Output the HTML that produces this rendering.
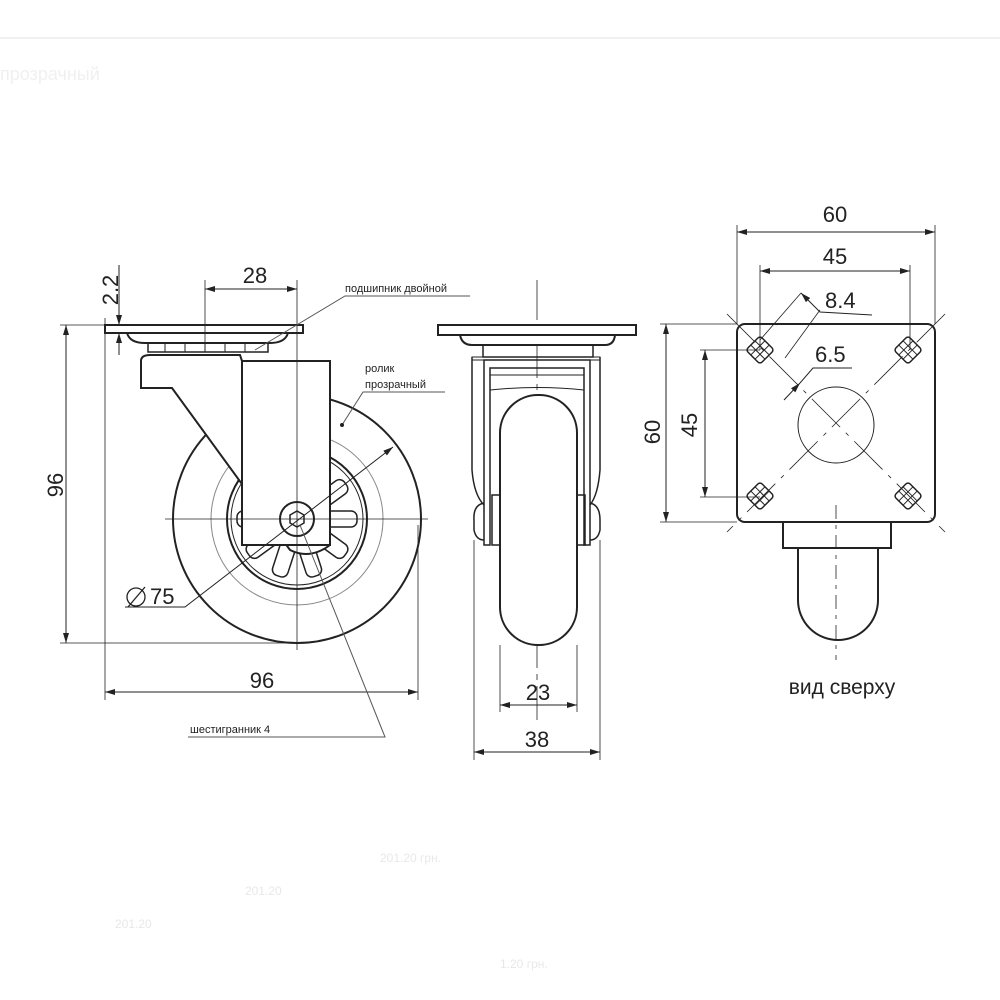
<!DOCTYPE html>
<html><head><meta charset="utf-8"><style>
html,body{margin:0;padding:0;background:#fff;}
svg{display:block;font-family:"Liberation Sans","DejaVu Sans",sans-serif;}
</style></head><body>
<svg width="1000" height="1000" viewBox="0 0 1000 1000" xmlns="http://www.w3.org/2000/svg">
<defs>
<marker id="a" viewBox="0 0 10 6" refX="10" refY="3" markerWidth="10" markerHeight="6" orient="auto-start-reverse" markerUnits="userSpaceOnUse"><path d="M0,0 L10,3 L0,6 z" fill="#222"/></marker>
<g id="h"><rect x="-10" y="-10" width="20" height="20" rx="3" stroke-width="1.5"/><line x1="-3" y1="-10" x2="-3" y2="10"/><line x1="3" y1="-10" x2="3" y2="10"/><line x1="-10" y1="-3" x2="10" y2="-3"/><line x1="-10" y1="3" x2="10" y2="3"/></g>
</defs>
<line x1="0" y1="38" x2="1000" y2="38" stroke="#eef0f3" stroke-width="2"/>
<text x="0" y="80" font-size="18" fill="#f0f0f0">прозрачный</text>

<g stroke="#222" fill="none" stroke-width="1">
<circle cx="297" cy="519" r="124" stroke-width="2"/>
<circle cx="297" cy="519" r="86" stroke="#888"/>
<circle cx="297" cy="519" r="70" stroke-width="2"/>
<circle cx="297" cy="519" r="66"/>
<g stroke-width="1.5">
<g transform="translate(297,519)">
<rect x="24" y="-8" width="36" height="16" rx="6" transform="rotate(0)"/>
<rect x="24" y="-8" width="36" height="16" rx="6" transform="rotate(36)"/>
<rect x="24" y="-8" width="36" height="16" rx="6" transform="rotate(72)"/>
<rect x="24" y="-8" width="36" height="16" rx="6" transform="rotate(108)"/>
<rect x="24" y="-8" width="36" height="16" rx="6" transform="rotate(144)"/>
<rect x="24" y="-8" width="36" height="16" rx="6" transform="rotate(180)"/>
<rect x="24" y="-8" width="36" height="16" rx="6" transform="rotate(216)"/>
<rect x="24" y="-8" width="36" height="16" rx="6" transform="rotate(-36)"/>
<rect x="24" y="-8" width="36" height="16" rx="6" transform="rotate(-72)"/>
</g>
</g>
<path d="M141,361 Q141,355 150,355 L240,355 L242,361 L330,361 L330,545 Q310,560 290,550 L172,388 L141,388 Z" fill="#fff" stroke-width="2"/>
<rect x="242" y="361" width="88" height="184" fill="#fff" stroke-width="2"/>
<circle cx="297" cy="519" r="17" fill="#fff" stroke-width="2"/>
<polygon points="290,515 297,511 304,515 304,523 297,527 290,523" stroke-width="1.5"/>
<path d="M127,333 Q130,343 145,343 L270,343 Q285,343 288,333" fill="#fff" stroke-width="2"/>
<rect x="148" y="343" width="120" height="9" stroke-width="1.5"/>
<line x1="165" y1="343" x2="165" y2="352"/><line x1="185" y1="343" x2="185" y2="352"/><line x1="205" y1="343" x2="205" y2="352"/><line x1="225" y1="343" x2="225" y2="352"/><line x1="245" y1="343" x2="245" y2="352"/>
<rect x="105" y="325" width="198" height="8" fill="#fff" stroke-width="2"/>
<line x1="297" y1="280" x2="297" y2="650" stroke-width="0.8"/>
<line x1="165" y1="519" x2="428" y2="519" stroke-width="0.8"/>
<line x1="105" y1="318" x2="105" y2="700" stroke-width="0.8"/>
<line x1="418" y1="525" x2="418" y2="700" stroke-width="0.8"/>
<line x1="60" y1="325" x2="105" y2="325" stroke-width="0.8"/>
<line x1="60" y1="643" x2="297" y2="643" stroke-width="0.8"/>
<line x1="66" y1="325" x2="66" y2="643" marker-start="url(#a)" marker-end="url(#a)"/>
<line x1="105" y1="692" x2="418" y2="692" marker-start="url(#a)" marker-end="url(#a)"/>
<line x1="205" y1="280" x2="205" y2="345" stroke-width="0.8"/>
<line x1="205" y1="289" x2="297" y2="289" marker-start="url(#a)" marker-end="url(#a)"/>
<line x1="119" y1="265" x2="119" y2="325" marker-end="url(#a)"/>
<line x1="119" y1="355" x2="119" y2="333" marker-end="url(#a)"/>
<polyline points="470,296 345,296 255,350" stroke="#555"/>
<polyline points="445,392 363,392 342,425" stroke="#555"/>
<circle cx="342" cy="425" r="1.5" fill="#222"/>
<polyline points="125,607 185,607 393,447" marker-end="url(#a)"/>
<polyline points="188,737 385,737 300,525" stroke="#555"/>

<line x1="537" y1="280" x2="537" y2="720" stroke-width="0.8" stroke-dasharray="40,6,6,6"/>
<rect x="500" y="395" width="77" height="250" rx="38" fill="#fff" stroke-width="2"/>
<path d="M472,357 L472,470 Q474,495 484,505 M600,357 L600,470 Q598,495 590,505" stroke-width="1.5"/>
<path d="M484,360 L484,545 L490,545 L490,368 L584,368 L584,545 L590,545 L590,360 Z" stroke-width="1.5"/>
<line x1="490" y1="375" x2="584" y2="375"/>
<path d="M490,390 Q537,385 584,390" stroke-width="1"/>
<rect x="492" y="495" width="8" height="50" stroke-width="1.5"/>
<rect x="577" y="495" width="8" height="50" stroke-width="1.5"/>
<path d="M484,503 Q473,505 474,520 L474,530 Q476,540 484,540" stroke-width="1.5"/>
<path d="M590,503 Q600,505 600,520 L600,530 Q598,540 590,540" stroke-width="1.5"/>
<rect x="472" y="357" width="128" height="3"/>
<rect x="483" y="345" width="110" height="12" stroke-width="1.5"/>
<path d="M460,335 Q462,345 472,345 L605,345 Q614,345 615,335" fill="#fff" stroke-width="2"/>
<rect x="438" y="325" width="198" height="10" fill="#fff" stroke-width="2"/>
<line x1="500" y1="645" x2="500" y2="712" stroke-width="0.8"/>
<line x1="577" y1="645" x2="577" y2="712" stroke-width="0.8"/>
<line x1="474" y1="540" x2="474" y2="760" stroke-width="0.8"/>
<line x1="600" y1="540" x2="600" y2="760" stroke-width="0.8"/>
<line x1="500" y1="705" x2="577" y2="705" marker-start="url(#a)" marker-end="url(#a)"/>
<line x1="474" y1="752" x2="600" y2="752" marker-start="url(#a)" marker-end="url(#a)"/>

<path d="M798,548 L798,600 A40,40 0 0 0 878,600 L878,548" fill="#fff" stroke-width="2"/>
<rect x="783" y="522" width="108" height="26" fill="#fff" stroke-width="2"/>
<rect x="737" y="324" width="198" height="198" rx="8" fill="#fff" stroke-width="2"/>
<line x1="836" y1="505" x2="836" y2="660" stroke-width="0.8" stroke-dasharray="14,6,4,6"/>
<line x1="727" y1="314" x2="945" y2="532" stroke-width="0.8" stroke-dasharray="40,8,4,8"/>
<line x1="945" y1="314" x2="727" y2="532" stroke-width="0.8" stroke-dasharray="40,8,4,8"/>
<circle cx="836" cy="425" r="38" stroke-width="1"/>
<use href="#h" transform="translate(760,350) rotate(45)"/>
<use href="#h" transform="translate(908,350) rotate(45)"/>
<use href="#h" transform="translate(760,496) rotate(45)"/>
<use href="#h" transform="translate(908,496) rotate(45)"/>
<line x1="737" y1="225" x2="737" y2="324" stroke-width="0.8"/>
<line x1="935" y1="225" x2="935" y2="324" stroke-width="0.8"/>
<line x1="737" y1="232" x2="935" y2="232" marker-start="url(#a)" marker-end="url(#a)"/>
<line x1="760" y1="265" x2="760" y2="350" stroke-width="0.8"/>
<line x1="910" y1="265" x2="910" y2="350" stroke-width="0.8"/>
<line x1="760" y1="271" x2="910" y2="271" marker-start="url(#a)" marker-end="url(#a)"/>
<line x1="660" y1="324" x2="737" y2="324" stroke-width="0.8"/>
<line x1="660" y1="522" x2="737" y2="522" stroke-width="0.8"/>
<line x1="666" y1="324" x2="666" y2="522" marker-start="url(#a)" marker-end="url(#a)"/>
<line x1="700" y1="350" x2="760" y2="350" stroke-width="0.8"/>
<line x1="700" y1="497" x2="760" y2="497" stroke-width="0.8"/>
<line x1="705" y1="350" x2="705" y2="497" marker-start="url(#a)" marker-end="url(#a)"/>
<line x1="760" y1="340" x2="801" y2="293" stroke-width="0.8"/>
<line x1="785" y1="358" x2="820" y2="310" stroke-width="0.8"/>
<polyline points="801,293 820,312 872,315" marker-start="url(#a)"/>
<line x1="784" y1="400" x2="800" y2="383" marker-end="url(#a)"/>
<polyline points="800,383 813,368 852,368"/>
</g>

<g fill="#222" font-size="22">
<text x="255" y="283" text-anchor="middle">28</text>
<text x="262" y="688" text-anchor="middle">96</text>
<text x="63" y="485" text-anchor="middle" transform="rotate(-90 63 485)">96</text>
<text x="118" y="290" text-anchor="middle" transform="rotate(-90 118 290)">2.2</text>
<text x="150" y="604">75</text>
<text x="538" y="700" text-anchor="middle">23</text>
<text x="537" y="747" text-anchor="middle">38</text>
<text x="835" y="222" text-anchor="middle">60</text>
<text x="835" y="264" text-anchor="middle">45</text>
<text x="825" y="308">8.4</text>
<text x="815" y="362">6.5</text>
<text x="660" y="432" text-anchor="middle" transform="rotate(-90 660 432)">60</text>
<text x="697" y="425" text-anchor="middle" transform="rotate(-90 697 425)">45</text>
<text x="842" y="694" text-anchor="middle" font-size="21">вид сверху</text>
</g>
<circle cx="136" cy="597" r="9" fill="none" stroke="#222" stroke-width="1.3"/>
<line x1="128" y1="607" x2="145" y2="587" stroke="#222" stroke-width="1.3"/>
<g fill="#222" font-size="11">
<text x="345" y="292">подшипник двойной</text>
<text x="365" y="372">ролик</text>
<text x="365" y="388">прозрачный</text>
<text x="190" y="733">шестигранник 4</text>
</g>
<g fill="#e8e8e8" font-size="12">
<text x="380" y="862">201.20 грн.</text>
<text x="245" y="895">201.20</text>
<text x="115" y="928">201.20</text>
<text x="500" y="968">1.20 грн.</text>
</g>
</svg>
</body></html>
